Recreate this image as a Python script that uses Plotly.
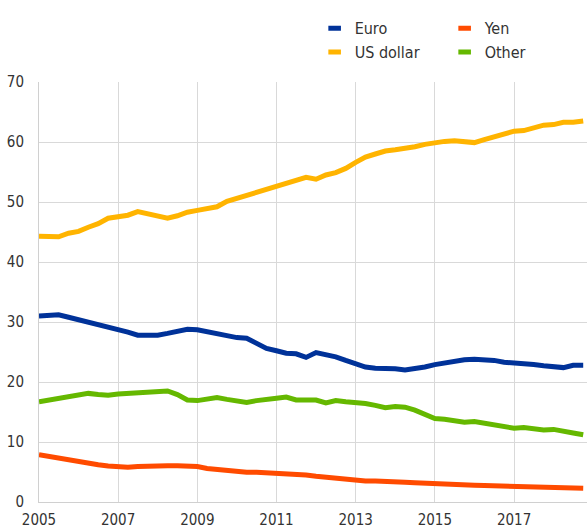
import plotly.graph_objects as go
import pandas as pd

# Quarterly observations, Q1 2005 - Q4 2018 (percentages)
start_quarter = "2005-01-01"
n_quarters = 56

euro = [31.0, 31.1, 31.2, 30.8, 30.4, 30.0, 29.5, 29.0, 28.7, 28.3, 27.8, 27.7,
        27.8, 28.1, 28.5, 28.8, 28.7, 28.4, 28.1, 27.6, 27.4, 27.3, 26.5, 25.6,
        25.2, 24.8, 24.7, 24.1, 24.9, 24.6, 24.2, 23.6, 23.0, 22.5, 22.3, 22.3,
        22.2, 22.0, 22.2, 22.5, 22.9, 23.2, 23.5, 23.7, 23.8, 23.8, 23.6, 23.3,
        23.2, 23.2, 22.9, 22.7, 22.6, 22.4, 22.8, 22.8]

us_dollar = [44.3, 44.2, 44.2, 44.8, 45.1, 45.8, 46.4, 47.3, 47.5, 47.8, 48.4, 48.1,
             47.7, 47.3, 47.7, 48.3, 48.6, 48.8, 49.2, 50.1, 50.6, 51.1, 51.7, 52.3,
             52.8, 53.2, 53.6, 54.1, 53.8, 54.5, 54.9, 55.6, 56.6, 57.5, 58.0, 58.5,
             58.7, 58.9, 59.2, 59.6, 59.9, 60.1, 60.2, 60.0, 59.9, 60.4, 60.9, 61.5,
             61.8, 61.9, 62.4, 62.8, 62.9, 63.3, 63.3, 63.5]

yen = [7.9, 7.6, 7.3, 7.0, 6.7, 6.5, 6.2, 6.0, 5.8, 5.8, 5.9, 6.0,
       6.05, 6.05, 6.05, 6.0, 5.9, 5.6, 5.4, 5.2, 5.0, 4.95, 4.95, 4.9,
       4.8, 4.7, 4.7, 4.5, 4.3, 4.1, 4.0, 3.8, 3.6, 3.5, 3.5, 3.5,
       3.4, 3.3, 3.2, 3.1, 3.1, 3.0, 2.95, 2.9, 2.8, 2.75, 2.7, 2.6,
       2.5, 2.45, 2.4, 2.3, 2.25, 2.2, 2.2, 2.3]

other = [16.7, 17.0, 17.3, 17.5, 17.8, 18.1, 17.9, 17.8, 18.0, 18.1, 18.1, 18.1,
         18.2, 18.5, 17.9, 17.0, 16.9, 17.2, 17.4, 17.1, 16.9, 16.6, 16.9, 17.2,
         17.3, 17.5, 17.0, 17.0, 17.0, 16.5, 16.9, 16.7, 16.6, 16.4, 16.1, 15.7,
         15.9, 15.8, 15.3, 14.6, 13.9, 13.8, 13.5, 13.3, 13.4, 13.1, 12.7, 12.4,
         12.3, 12.4, 12.2, 12.0, 12.1, 11.9, 11.5, 11.2]

series_names = ["Euro", "Yen", "US dollar", "Other"]
series_colors = {"Euro": "#003299", "Yen": "#FF4B00", "US dollar": "#FFB400", "Other": "#65B800"}
series_values = {"Euro": euro, "Yen": yen, "US dollar": us_dollar, "Other": other}

y_ticks = [0, 10, 20, 30, 40, 50, 60, 70]
x_tick_years = ["2005", "2007", "2009", "2011", "2013", "2015", "2017"]

dates = pd.date_range(start_quarter, periods=n_quarters, freq="QS")

FONT = "Liberation Sans Narrow, Arial Narrow, DejaVu Sans Condensed, Liberation Sans, Arial, sans-serif"
TEXT_COLOR = "#333333"

fig = go.Figure()

for name in ["Other", "Yen", "Euro", "US dollar"]:
    fig.add_trace(go.Scatter(
        x=dates, y=series_values[name], mode="lines", name=name,
        line=dict(color=series_colors[name], width=5),
        showlegend=False, hoverinfo="skip"))

for i, name in enumerate(series_names):
    fig.add_trace(go.Scatter(
        x=[None], y=[None], mode="markers", name=name,
        marker=dict(symbol="line-ew", size=9,
                    line=dict(color=series_colors[name], width=5)),
        legend="legend" if i < 2 else "legend2"))

legend_common = dict(
    orientation="h", xanchor="left", yanchor="middle",
    font=dict(family=FONT, size=16, color=TEXT_COLOR),
    bgcolor="rgba(0,0,0,0)", entrywidth=85, entrywidthmode="pixels")

fig.update_layout(
    width=587, height=531,
    margin=dict(l=39, r=0, t=82, b=29, autoexpand=False),
    paper_bgcolor="white", plot_bgcolor="white",
    font=dict(family=FONT, size=15, color=TEXT_COLOR),
    legend=dict(x=0.503, y=1.128, yref="paper", **legend_common),
    legend2=dict(x=0.503, y=1.071, yref="paper", **legend_common),
    xaxis=dict(
        type="date",
        range=[dates[0], pd.Timestamp("2018-11-05")],
        tickvals=[pd.Timestamp(y + "-01-01") for y in x_tick_years],
        ticktext=x_tick_years,
        showgrid=True, gridcolor="#d9d9d9", gridwidth=1,
        showline=True, linecolor="#d0d0d0", linewidth=1,
        ticks="", zeroline=False, ticklabelstandoff=4,
        tickfont=dict(family=FONT, size=15, color=TEXT_COLOR),
    ),
    yaxis=dict(
        range=[0, 70], tickvals=y_ticks,
        showgrid=True, gridcolor="#d9d9d9", gridwidth=1,
        showline=True, linecolor="#d0d0d0", linewidth=1,
        ticks="", zeroline=False, ticklabelstandoff=11,
        tickfont=dict(family=FONT, size=15, color=TEXT_COLOR),
    ),
)

fig.write_html("out.html", config={"displayModeBar": False},
               post_script="document.body.style.margin='0';")
